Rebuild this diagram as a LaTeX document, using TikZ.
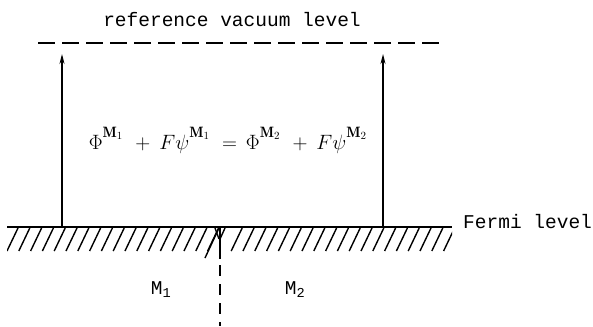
\documentclass[tikz,border=0pt]{standalone}
\usepackage{fontspec}
\setmonofont{Liberation Mono}
\usetikzlibrary{arrows.meta}
\newcommand{\supM}[1]{^{\raisebox{4pt}{\fontsize{15}{15}\selectfont$\mathbf{M}_{#1}$}}}
\newcommand{\opsp}[1]{\hspace{12pt}{#1}\hspace{9pt}}
\tikzset{
  mono/.style={font=\fontsize{19.5}{22}\selectfont\ttfamily, inner sep=0pt},
  level/.style={line width=2.2pt},
  vac/.style={line width=2.2pt, dash pattern=on 17pt off 7pt},
  uparrow/.style={line width=1.4pt, -{Stealth[length=10pt,width=5pt]}},
  hatch/.style={line width=1.4pt},
  divider/.style={line width=1.4pt}
}
\begin{document}
\begin{tikzpicture}[x=1pt,y=-1pt]
\useasboundingbox (0,0) rectangle (593,326);
% reference vacuum level
\node[mono, anchor=base] (vactext) at (232,27) {reference vacuum level};
\coordinate (vacL) at (38,43);
\coordinate (vacR) at (444,43);
\draw[vac] (vacL) -- (vacR);
% Fermi level
\coordinate (fermiL) at (7,227);
\coordinate (fermiR) at (452,227);
\draw[level] (fermiL) -- (fermiR);
\node[mono, anchor=base west] (fermitext) at (463,228) {Fermi level};
% hatching
\begin{scope}
  \clip (7,228) rectangle (452,262);
  \foreach \i in {0,...,37} {
    \pgfmathsetmacro{\xx}{7+11.8*\i}
    \ifdim \xx pt<214pt
      \draw[hatch] (\xx,251) -- (\xx+11,228);
    \else\ifdim \xx pt>226pt
      \draw[hatch] (\xx,251) -- (\xx+11,228);
    \fi\fi
  }
  \draw[hatch] (205,258) -- (219,228);
  \draw[hatch] (220,239) -- (225,228);
  \draw[hatch] (215,228) -- (219,239);
\end{scope}
% divider
\coordinate (divT) at (220,227);
\coordinate (divM) at (220,259);
\coordinate (divB) at (220,326);
\draw[divider] (divT) -- (divM);
\draw[divider, dash pattern=on 11pt off 8pt] ([yshift=-6pt]divM) -- (divB);
% arrows
\coordinate (a1b) at (62,227);
\coordinate (a1t) at (62,54);
\coordinate (a2b) at (383,227);
\coordinate (a2t) at (383,54);
\draw[uparrow] (a1b) -- (a1t);
\draw[uparrow] (a2b) -- (a2t);
% equation
\node[inner sep=0pt, anchor=base, font=\fontsize{20}{22}\selectfont] (eq) at (228,149)
  {$\Phi\supM{1}\opsp{+}F\psi\supM{1}\opsp{=}\Phi\supM{2}\opsp{+}F\psi\supM{2}$};
% metal labels
\node[mono, anchor=base] (m1) at (161,294) {M\textsubscript{1}};
\node[mono, anchor=base] (m2) at (295,294) {M\textsubscript{2}};
\end{tikzpicture}
\end{document}
